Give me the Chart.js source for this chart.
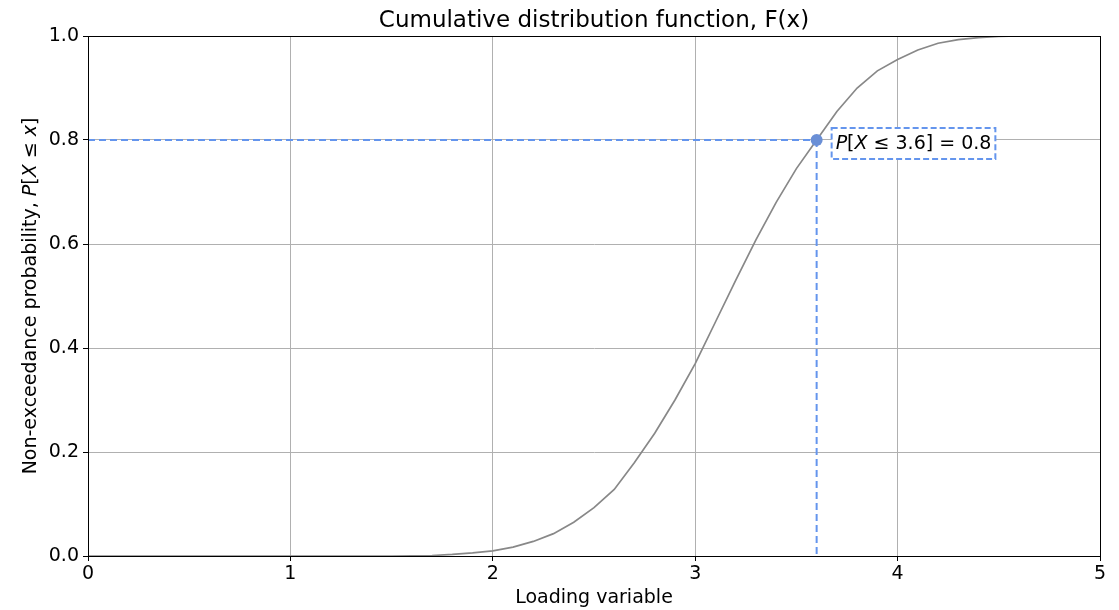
<!DOCTYPE html>
<html>
<head>
  <title>Cumulative distribution function</title>
  <script src="https://cdn.jsdelivr.net/npm/chart.js"></script>
  <style>
    html, body { margin: 0; padding: 0; background: #fff; }
    #wrap { width: 1119px; height: 610px; position: relative; }
  </style>
</head>
<body>
  <div id="wrap"><canvas id="cdf"></canvas></div>

  <script>
    // Loading variable grid and the CDF values along it
    const loadingX = [0.0, 0.5, 1.0, 1.5, 1.6, 1.7, 1.8, 1.9, 2.0, 2.1, 2.2, 2.3, 2.4, 2.5,
      2.6, 2.7, 2.8, 2.9, 3.0, 3.1, 3.2, 3.3, 3.4, 3.5, 3.6, 3.7, 3.8, 3.9, 4.0,
      4.1, 4.2, 4.3, 4.4, 4.5, 4.6, 4.8, 5.0];
    const cdfY = [0.0, 0.0, 0.0, 0.0, 0.0005, 0.001, 0.003, 0.006, 0.010, 0.017, 0.028, 0.043, 0.065, 0.093,
      0.128, 0.180, 0.236, 0.300, 0.370, 0.450, 0.530, 0.608, 0.680, 0.745, 0.800, 0.855, 0.900, 0.933, 0.955,
      0.973, 0.986, 0.993, 0.997, 0.999, 1.0, 1.0, 1.0];

    // Marked quantile
    const markX = 3.6;
    const markP = 0.8;

    const xTicks = [0, 1, 2, 3, 4, 5];
    const yTicks = [0.0, 0.2, 0.4, 0.6, 0.8, 1.0];

    const BLUE = '#6495ED';
    const FONT = '"DejaVu Sans", sans-serif';

    // draw a run of text pieces, some italic, starting at x (left aligned)
    function richWidth(ctx, parts, size) {
      let w = 0;
      parts.forEach(p => {
        ctx.font = (p.it ? 'italic ' : '') + size + 'px ' + FONT;
        w += ctx.measureText(p.t).width;
      });
      return w;
    }
    function drawRich(ctx, parts, x, y, size) {
      ctx.textAlign = 'left';
      parts.forEach(p => {
        ctx.font = (p.it ? 'italic ' : '') + size + 'px ' + FONT;
        ctx.fillText(p.t, x, y);
        x += ctx.measureText(p.t).width;
      });
    }

    const decorations = {
      id: 'decorations',
      afterDraw(chart) {
        const ctx = chart.ctx;
        const a = chart.chartArea;
        const xs = chart.scales.x, ys = chart.scales.y;
        ctx.save();

        // frame
        ctx.strokeStyle = '#000';
        ctx.lineWidth = 1;
        ctx.strokeRect(a.left + 0.5, a.top + 0.5, a.right - a.left, a.bottom - a.top);

        ctx.fillStyle = '#000';
        ctx.textBaseline = 'middle';

        // title
        ctx.font = '23px ' + FONT;
        ctx.textAlign = 'center';
        ctx.fillText('Cumulative distribution function, F(x)', (a.left + a.right) / 2, 21);

        // x axis title
        ctx.font = '19px ' + FONT;
        ctx.fillText('Loading variable', (a.left + a.right) / 2, 598);

        // y axis title, rotated
        const yParts = [
          { t: 'Non-exceedance probability, ' }, { t: 'P', it: true }, { t: '[' },
          { t: 'X', it: true }, { t: ' ≤ ' }, { t: 'x', it: true }, { t: ']' }
        ];
        ctx.save();
        ctx.translate(31, (a.top + a.bottom) / 2);
        ctx.rotate(-Math.PI / 2);
        const yw = richWidth(ctx, yParts, 19);
        drawRich(ctx, yParts, -yw / 2, 0, 19);
        ctx.restore();

        // boxed label next to the marked point
        const px = xs.getPixelForValue(markX);
        const py = ys.getPixelForValue(markP);
        const lab = [
          { t: 'P', it: true }, { t: '[' }, { t: 'X', it: true },
          { t: ' ≤ ' + markX.toFixed(1) + '] = ' + markP.toFixed(1) }
        ];
        const lw = richWidth(ctx, lab, 19);
        const bx = px + 15, by = py - 12, bw = lw + 8, bh = 31;
        ctx.fillStyle = '#fff';
        ctx.fillRect(bx, by, bw, bh);
        ctx.setLineDash([6, 3]);
        ctx.strokeStyle = BLUE;
        ctx.lineWidth = 2;
        ctx.strokeRect(bx, by, bw, bh);
        ctx.setLineDash([]);
        ctx.fillStyle = '#000';
        drawRich(ctx, lab, bx + 4, by + bh / 2 + 1, 19);

        ctx.restore();
      }
    };

    new Chart(document.getElementById('cdf'), {
      type: 'line',
      data: {
        datasets: [
          {
            data: [{ x: markX, y: markP }],
            showLine: false,
            pointRadius: 6,
            pointBackgroundColor: '#6a8fd6',
            pointBorderWidth: 0
          },
          {
            data: [{ x: 0, y: markP }, { x: markX, y: markP }],
            borderColor: BLUE,
            borderWidth: 2,
            borderDash: [7, 4],
            pointRadius: 0
          },
          {
            data: [{ x: markX, y: markP }, { x: markX, y: 0 }],
            borderColor: BLUE,
            borderWidth: 2,
            borderDash: [7, 4],
            pointRadius: 0
          },
          {
            data: loadingX.map((x, i) => ({ x: x, y: cdfY[i] })),
            borderColor: '#888888',
            borderWidth: 1.7,
            pointRadius: 0,
            tension: 0
          }
        ]
      },
      options: {
        responsive: true,
        maintainAspectRatio: false,
        animation: false,
        events: [],
        layout: { padding: { top: 36, right: 19, left: 0, bottom: 0 } },
        plugins: {
          legend: { display: false },
          tooltip: { enabled: false },
          title: { display: false }
        },
        scales: {
          x: {
            type: 'linear',
            min: 0,
            max: 5,
            afterFit: s => { s.height = 54; },
            afterBuildTicks: s => { s.ticks = xTicks.map(v => ({ value: v })); },
            ticks: {
              color: '#000',
              font: { family: FONT, size: 19 },
              padding: 2,
              maxRotation: 0,
              callback: v => String(v)
            },
            grid: { color: '#b0b0b0', lineWidth: 1, tickColor: '#000', tickLength: 5 },
            border: { display: true, color: '#000' }
          },
          y: {
            type: 'linear',
            min: 0,
            max: 1,
            afterFit: s => { s.width = 88; },
            afterBuildTicks: s => { s.ticks = yTicks.map(v => ({ value: v })); },
            ticks: {
              color: '#000',
              font: { family: FONT, size: 19 },
              padding: 4,
              callback: v => v.toFixed(1)
            },
            grid: { color: '#b0b0b0', lineWidth: 1, tickColor: '#000', tickLength: 5 },
            border: { display: true, color: '#000' }
          }
        }
      },
      plugins: [decorations]
    });
  </script>
</body>
</html>
